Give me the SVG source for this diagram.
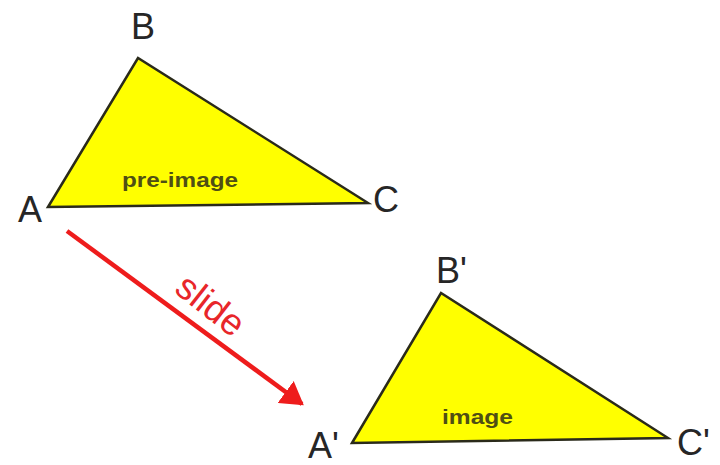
<svg xmlns="http://www.w3.org/2000/svg" width="720" height="465" viewBox="0 0 720 465">
<style>
.tri{fill:#ffff00;stroke:#2a2a1a;stroke-width:2.5;stroke-linejoin:miter}
.lbl{font-family:"Liberation Sans",Arial,sans-serif;font-size:36px;fill:#262626}
.inner{font-family:"Liberation Sans",Arial,sans-serif;font-size:21px;font-weight:bold;fill:#4f4f14}
.slide{font-family:"Liberation Sans",Arial,sans-serif;font-size:37px;fill:#e8262a;text-anchor:middle}
</style>
<defs>
<marker id="ah" markerWidth="6" markerHeight="6" refX="4.5" refY="3" orient="auto" markerUnits="strokeWidth">
<path d="M0,0 L5,3 L0,6 Z" fill="#ee1c1c"/>
</marker>
</defs>
<rect width="720" height="465" fill="#ffffff"/>
<g id="preimage">
<polygon class="tri" points="48,207 138,58 368,203"/>
<text class="inner" x="122" y="187" textLength="116" lengthAdjust="spacingAndGlyphs">pre-image</text>
<text class="lbl" x="131" y="39">B</text>
<text class="lbl" x="18" y="222">A</text>
<text class="lbl" x="373" y="212">C</text>
</g>
<g id="image">
<polygon class="tri" points="352,443 441,293 668,438"/>
<text class="inner" x="442" y="424" textLength="71" lengthAdjust="spacingAndGlyphs">image</text>
<text class="lbl" x="436" y="283">B'</text>
<text class="lbl" x="308" y="458">A'</text>
<text class="lbl" x="677" y="455">C'</text>
</g>
<g id="connectors">
<line x1="67" y1="231" x2="302" y2="404" stroke="#ee1c1c" stroke-width="4.5" marker-end="url(#ah)"/>
<text class="slide" transform="translate(203,315) rotate(38)">slide</text>
</g>
</svg>
